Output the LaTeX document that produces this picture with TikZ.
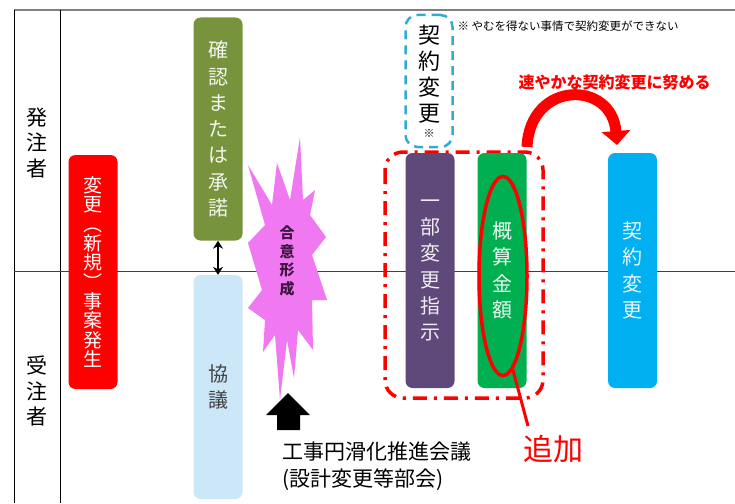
\documentclass[tikz,border=0pt]{standalone}
\usepackage{fontspec}
\setmainfont{Noto Sans CJK JP}
\usetikzlibrary{shapes.geometric,arrows.meta}
\definecolor{ffqqqq}{rgb}{1,0,0}
\definecolor{wwzzqq}{rgb}{0.467,0.576,0.235}
\definecolor{cceeff}{rgb}{0.8,0.906,0.973}
\definecolor{uuttww}{rgb}{0.373,0.286,0.478}
\definecolor{qqbbqq}{rgb}{0,0.69,0.314}
\definecolor{qqbbff}{rgb}{0,0.69,0.941}
\definecolor{ffvvff}{rgb}{0.941,0.471,0.941}
\definecolor{zzbbcc}{rgb}{0.2,0.67,0.82}
\definecolor{wwqqww}{rgb}{0.25,0.08,0.25}
\tikzset{
	lanebar/.style={rounded corners=7pt, minimum width=49pt, minimum height=235pt, inner sep=0pt, align=center, text=white, font=\fontsize{20}{26.3}\selectfont},
	lanelabel/.style={align=center, font=\fontsize{21}{25.5}\selectfont}
}
\begin{document}
\begin{tikzpicture}[x=1pt,y=-1pt]
			\useasboundingbox (0,0) rectangle (735,503);
			\draw [color=gray, line width=1.2pt] (14,10)-- (735,10);
			\draw [line width=1pt] (14,10)-- (14,503);
			\draw [line width=1pt] (60,10)-- (60,503);
			\draw [color=darkgray, line width=1pt] (14,271)-- (735,271);
			\node [lanelabel] (hc) at (37,143) {発\\注\\者};
			\node [lanelabel] (jc) at (37,391) {受\\注\\者};
			\node [lanebar, fill=ffqqqq, minimum height=234pt, font=\fontsize{19}{19.3}\selectfont] (jh) at (93,272) {変\\更\\︵\\新\\規\\︶\\事\\案\\発\\生};
			\node [lanebar, fill=wwzzqq, minimum height=223pt, text=white!92!wwzzqq] (ks) at (218,129) {確\\認\\ま\\た\\は\\承\\諾};
			\node [lanebar, fill=cceeff, minimum height=224pt, text=darkgray] (kg) at (218,387) {協\\議};
			\draw [{Stealth[length=8pt,width=10pt]}-{Stealth[length=8pt,width=10pt]}, line width=2.6pt] (ks) -- (kg);
			\fill [color=ffvvff] (300,137) -- (303,200) -- (315,190) -- (310,215) -- (326,237) -- (312,255) -- (327,300) -- (312,300) -- (313,350) -- (298,330) -- (294,378) -- (287,340) -- (280,400) -- (275,335) -- (263,352) -- (265,320) -- (248,308) -- (262,290) -- (248,243) -- (265,225) -- (248,165) -- (272,205) -- (277,163) -- (290,200) -- cycle;
			\node [align=center, text=wwqqww, font=\bfseries\fontsize{15}{18.5}\selectfont] (gi) at (287,261) {合\\意\\形\\成};
			\fill (266,415) -- (288,393) -- (310,415) -- (300,415) -- (300,430) -- (277,430) -- (277,415) -- cycle;
			\node [anchor=west, align=left, font=\fontsize{21}{27}\selectfont] (kk) at (279,466) {工事円滑化推進会議\\(設計変更等部会)};
			\node [draw=zzbbcc, line width=2.5pt, dash pattern=on 9pt off 6pt, rounded corners=12pt, minimum width=47pt, minimum height=132pt, inner sep=0pt, align=center, font=\fontsize{22}{26}\selectfont] (kh) at (429,81) {契\\約\\変\\更\\[-10pt]{\fontsize{11}{11}\selectfont ※}};
			\node [anchor=west, font=\fontsize{11.5}{12}\selectfont] (cy) at (454,26) {※ やむを得ない事情で契約変更ができない};
			\draw [color=ffqqqq, line width=3.5pt, rounded corners=18pt, dash pattern=on 14pt off 7pt on 3pt off 7pt] (385,152) rectangle (543,398);
			\node [lanebar, fill=uuttww, text=white!90!uuttww] (ib) at (430,270.5) {一\\部\\変\\更\\指\\示};
			\node [lanebar, fill=qqbbqq, text=white!92!qqbbqq] (gk) at (502,270.5) {概\\算\\金\\額};
			\node [lanebar, fill=qqbbff, text=white!92!qqbbff] (kv) at (632.5,270.5) {契\\約\\変\\更};
			\node [ellipse, draw=ffqqqq, line width=3.5pt, minimum width=48pt, minimum height=199pt, inner sep=0pt] (el) at (503,276) {};
			\coordinate (tk) at (528,426);
			\draw [color=ffqqqq, line width=3pt] (el.-84) -- (tk);
			\node [text=ffqqqq, font=\fontsize{30}{30}\selectfont] (ta) at (553,449) {追加};
			\coordinate (sa) at (527,147);
			\coordinate (sb) at (617,145);
			\draw [color=ffqqqq, line width=11pt, -{Triangle[width=28pt,length=14pt]}] (sa) .. controls (530,80) and (612,80) .. (sb);
			\node [anchor=west, text=ffqqqq, font=\bfseries\fontsize{16}{16}\selectfont] (sy) at (515,82) {速やかな契約変更に努める};
		\end{tikzpicture}
\end{document}
